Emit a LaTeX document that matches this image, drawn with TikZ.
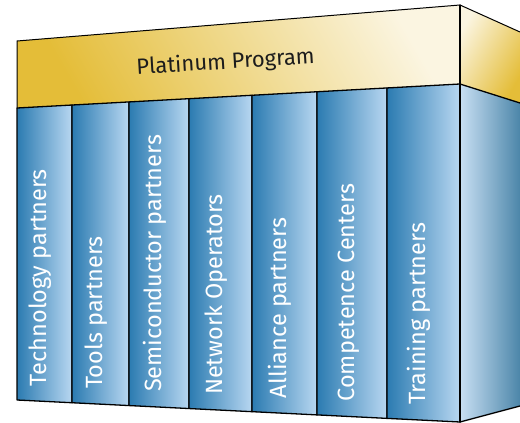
\documentclass[tikz,border=0pt]{standalone}
\usepackage{fontspec}
\setsansfont{Fira Sans}
\usetikzlibrary{calc}

\definecolor{goldDark}{HTML}{E4BD38}
\definecolor{goldLight}{HTML}{FBF5E1}
\definecolor{blueDark}{HTML}{2B7BB1}
\definecolor{blueLight}{HTML}{B8D7F1}
\definecolor{sideLight}{HTML}{C8DFF3}
\definecolor{sideDark}{HTML}{4C86A9}
\definecolor{inkDark}{HTML}{1C1C1C}

\tikzset{
  edge/.style={draw=black, line width=1.3pt, line join=round},
  column/.style={edge, left color=blueDark, right color=blueLight},
  colname/.style={rotate=90, anchor=mid west, inner sep=0pt, text=white,
    font=\sffamily\fontsize{23.5}{23.5}\selectfont},
}

\begin{document}
\begin{tikzpicture}[x=1pt, y=-1pt, line cap=round]
  \useasboundingbox (0,0) rectangle (520,423);

  % coordinates (front face)
  \coordinate (TL) at (17,41);
  \coordinate (TR) at (460,5);
  \coordinate (ML) at (17,108);
  \coordinate (MR) at (460,84);
  \coordinate (BL) at (17,400);
  \coordinate (BR) at (460,422);
  % coordinates (side face)
  \coordinate (ST) at (520,32);
  \coordinate (SM) at (520,103);
  \coordinate (SB) at (520,406);

  % banner
  \shade[bottom color=goldDark, top color=goldLight, shading angle=-60]
    (TL) -- (TR) -- (MR) -- (ML) -- cycle;
  \node[rotate=3.5, anchor=base, text=inkDark,
    font=\sffamily\fontsize{22}{22}\selectfont] (banner) at (226,69) {Platinum Program};

  % side face
  \shade[bottom color=goldDark, top color=goldLight, shading angle=60]
    (TR) -- (ST) -- (SM) -- (MR) -- cycle;
  \shade[left color=sideLight, right color=sideDark]
    (MR) -- (SM) -- (SB) -- (BR) -- cycle;

  % columns
  \foreach \a/\b/\txt [count=\i] in {
      0/0.1242/Technology partners,
      0.1242/0.2528/Tools partners,
      0.2528/0.3883/Semiconductor partners,
      0.3883/0.5305/Network Operators,
      0.5305/0.6772/Alliance partners,
      0.6772/0.8352/Competence Centers,
      0.8352/1/Training partners} {
    \draw[column] ($(ML)!\a!(MR)$) -- ($(ML)!\b!(MR)$)
      -- ($(BL)!\b!(BR)$) -- ($(BL)!\a!(BR)$) -- cycle;
    \pgfmathsetmacro{\m}{(\a+\b)/2}
    \node[colname] (col\i) at ($(BL)!\m!(BR) + (0,-15)$) {\txt};
  }

  % edges
  \draw[edge, line width=1pt] (ML) -- (TL) -- (TR) -- (ST);
  \draw[edge] (TR) -- (BR);
  \draw[edge] (MR) -- (SM);
  \draw[edge] (BR) -- (SB);
\end{tikzpicture}
\end{document}
